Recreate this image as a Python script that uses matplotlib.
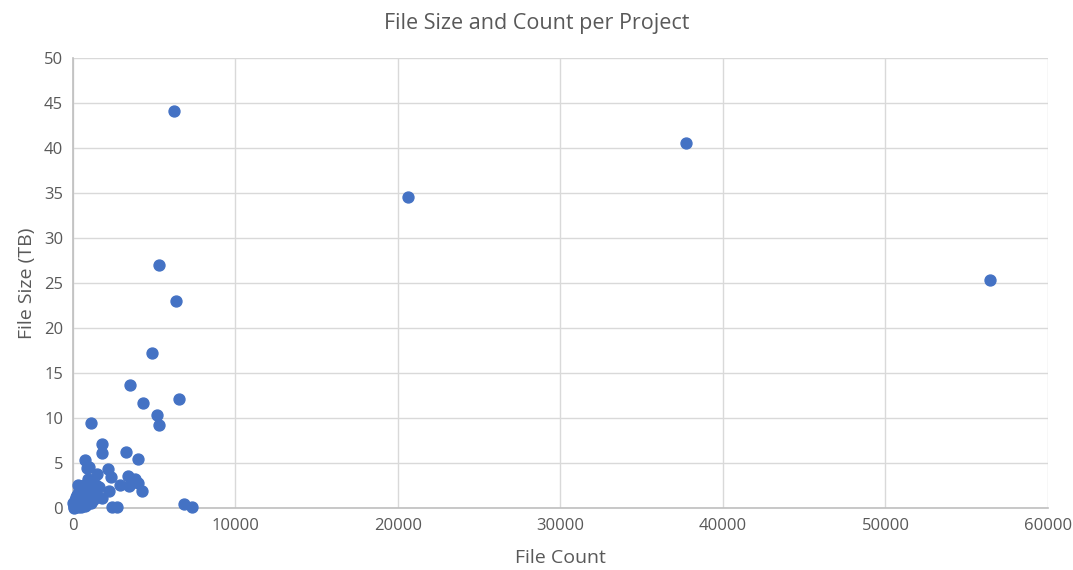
import matplotlib.pyplot as plt

# file count per project
file_count = [
    6240, 37710, 20600, 56440, 5300, 6350, 4850, 3510, 6550, 4330,
    5155, 5320, 1110, 1770, 1770, 3245, 3985, 740, 840, 1000,
    1500, 2180, 2320, 3370, 3820, 4025, 2900, 3450, 4230, 2240,
    1770, 2385, 2690, 6860, 7310,
    # dense cluster near the origin
    50, 80, 120, 150, 200, 250, 300, 350, 400, 450,
    500, 550, 600, 650, 700, 800, 900, 1000, 1100, 1200,
    1300, 1400, 60, 100, 180, 260, 330, 420, 520, 610,
    720, 880, 950, 1050, 1250, 1450, 1600, 220, 380, 480,
    560, 680, 780, 30, 140, 300, 460, 900,
]
# file size per project (TB)
file_size = [
    44.15, 40.6, 34.6, 25.3, 27.0, 23.05, 17.2, 13.7, 12.1, 11.7,
    10.3, 9.2, 9.4, 7.1, 6.1, 6.2, 5.4, 5.3, 4.4, 4.6,
    3.8, 4.3, 3.4, 3.6, 3.2, 2.8, 2.6, 2.4, 1.9, 1.9,
    1.1, 0.1, 0.1, 0.4, 0.15,
    0.1, 0.3, 0.6, 0.2, 1.2, 0.4, 2.5, 0.8, 1.6, 0.3,
    2.2, 1.0, 0.5, 1.8, 0.7, 2.4, 1.3, 3.0, 0.6, 2.0,
    1.5, 2.6, 0.05, 0.9, 0.2, 1.4, 0.1, 2.1, 0.3, 1.1,
    0.2, 0.4, 1.7, 2.7, 0.9, 1.2, 2.3, 0.7, 1.9, 0.15,
    1.0, 2.6, 0.35, 0.5, 0.25, 1.5, 0.8, 3.2,
]

plt.rcParams['font.family'] = ['Open Sans', 'DejaVu Sans']
text_col = '#595959'

fig = plt.figure(figsize=(10.73, 5.70), dpi=100)
ax = fig.add_axes([0.068, 0.1088, 0.9087, 0.7894])
ax.scatter(file_count, file_size, s=62, color='#4472C4', zorder=3, clip_on=False)

ax.set_xlim(0, 60000)
ax.set_ylim(0, 50)
ax.set_xticks(range(0, 60001, 10000))
ax.set_yticks(range(0, 51, 5))
ax.grid(True, color='#D9D9D9', linewidth=1)
ax.set_axisbelow(True)
for side in ['top', 'right']:
    ax.spines[side].set_visible(False)
for side in ['left', 'bottom']:
    ax.spines[side].set_color('#BFBFBF')
    ax.spines[side].set_linewidth(1.2)
ax.tick_params(length=0, labelsize=12, labelcolor=text_col, pad=7)

ax.set_xlabel('File Count', fontsize=14, color=text_col, labelpad=11)
ax.set_ylabel('File Size (TB)', fontsize=14, color=text_col, labelpad=6)
fig.suptitle('File Size and Count per Project', fontsize=15.5, color=text_col, y=0.977)

fig.savefig('out.png')
